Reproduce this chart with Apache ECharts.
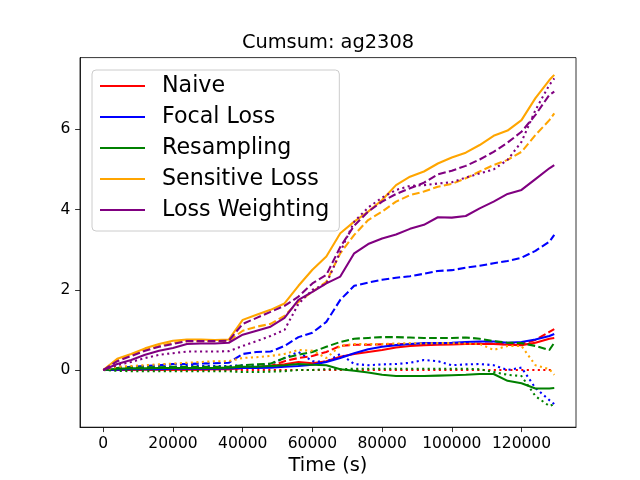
<!DOCTYPE html>
<html>
<head>
<meta charset="utf-8">
<script src="https://cdn.jsdelivr.net/npm/echarts@6/dist/echarts.min.js"></script>
<style>html,body{margin:0;padding:0;background:#fff}#c{width:640px;height:480px}</style>
</head>
<body>
<div id="c"></div>
<script>
const times = [0,4000,8000,12000,16000,20000,24000,28000,32000,36000,40000,44000,48000,52000,56000,60000,64000,68000,72000,76000,80000,84000,88000,92000,96000,100000,104000,108000,112000,116000,120000,124000,128000,129400];

const naiveSolid  = [0,0,0,0.01,0.01,0.01,0.01,0.01,0.02,0.02, 0.05,0.07,0.1,0.14,0.2,0.17,0.22,0.33,0.4,0.45, 0.5,0.56,0.6,0.62,0.63,0.64,0.65,0.65,0.65,0.63, 0.62,0.68,0.78,0.8];
const naiveDashed = [0,0,0,0.01,0.01,0.01,0.01,0.01,0.02,0.02, 0.05,0.08,0.1,0.22,0.3,0.35,0.45,0.6,0.63,0.63, 0.64,0.64,0.65,0.65,0.65,0.66,0.66,0.66,0.66,0.64, 0.65,0.75,0.95,1.02];
const naiveDotted = [0,0,0,0,0,0,0,0,0,0, 0,0,0,0,0,0,0,0,0,0, 0,0,0,0,0,0,0,0,0,0, 0,0,0,0];

const focalSolid  = [0,0.01,0.02,0.02,0.02,0.03,0.03,0.03,0.03,0.04, 0.05,0.05,0.06,0.08,0.1,0.13,0.2,0.3,0.42,0.52, 0.58,0.62,0.65,0.67,0.67,0.68,0.7,0.71,0.71,0.68, 0.7,0.76,0.85,0.9];
const focalDashed = [0,0.05,0.08,0.1,0.12,0.15,0.15,0.16,0.17,0.18, 0.4,0.45,0.46,0.6,0.82,0.93,1.2,1.75,2.1,2.18, 2.25,2.3,2.34,2.4,2.47,2.49,2.55,2.6,2.66,2.72, 2.8,2.97,3.2,3.37];
const focalDotted = [0,0.03,0.05,0.06,0.07,0.08,0.1,0.1,0.1,0.1, 0.12,0.12,0.15,0.3,0.45,0.22,0.2,0.4,0.15,0.12, 0.14,0.15,0.18,0.25,0.22,0.12,0.14,0.15,0.12,0.0, 0.06,-0.45,-0.75,-0.85];

const resSolid  = [0,0.03,0.04,0.04,0.05,0.05,0.05,0.05,0.05,0.06, 0.08,0.08,0.1,0.12,0.15,0.13,0.12,0.02,-0.02,-0.06, -0.12,-0.15,-0.15,-0.15,-0.14,-0.13,-0.12,-0.1,-0.1,-0.27, -0.33,-0.46,-0.46,-0.45];
const resDashed = [0,0.05,0.06,0.07,0.07,0.08,0.08,0.08,0.08,0.08, 0.12,0.14,0.16,0.3,0.38,0.45,0.58,0.7,0.78,0.8, 0.82,0.82,0.81,0.8,0.8,0.8,0.81,0.78,0.72,0.68, 0.67,0.6,0.5,0.68];
const resDotted = [0,-0.02,-0.03,-0.03,-0.03,-0.03,-0.03,-0.03,-0.03,-0.03, -0.05,-0.05,-0.04,-0.03,0,0,0.02,0.02,0.03,0.03, 0.03,0.03,0.03,0.03,0.03,0.03,0.03,0.02,-0.05,-0.12, -0.15,-0.65,-0.9,-0.85];

const sensSolid  = [0,0.28,0.4,0.54,0.65,0.73,0.76,0.76,0.75,0.76, 1.25,1.38,1.5,1.66,2.1,2.5,2.83,3.41,3.7,3.95, 4.24,4.61,4.82,4.95,5.15,5.3,5.42,5.61,5.84,5.97, 6.23,6.78,7.23,7.36];
const sensDashed = [0,0.25,0.38,0.5,0.6,0.68,0.72,0.72,0.72,0.72, 0.98,1.08,1.15,1.35,1.7,1.95,2.2,2.91,3.37,3.74, 3.95,4.2,4.36,4.45,4.57,4.64,4.78,4.95,5.11,5.24, 5.44,5.86,6.23,6.4];
const sensDotted = [0,0.08,0.1,0.12,0.14,0.16,0.18,0.2,0.22,0.22, 0.3,0.32,0.35,0.4,0.5,0.48,0.3,0.6,0.65,0.65, 0.65,0.66,0.67,0.66,0.67,0.67,0.66,0.65,0.5,0.6, 0.6,0.12,0.02,-0.12];

const lwSolid  = [0,0.15,0.25,0.38,0.48,0.55,0.65,0.66,0.66,0.68, 0.88,0.98,1.08,1.3,1.75,1.95,2.16,2.33,2.91,3.14, 3.28,3.38,3.52,3.62,3.81,3.8,3.84,4.03,4.2,4.39, 4.49,4.76,5.03,5.11];
const lwDashed = [0,0.22,0.35,0.48,0.58,0.65,0.72,0.72,0.72,0.73, 1.15,1.3,1.45,1.6,1.83,2.16,2.37,3.07,3.6,3.95, 4.2,4.39,4.53,4.67,4.88,4.97,5.09,5.25,5.44,5.67, 5.94,6.36,6.86,6.94];
const lwDotted = [0,0.12,0.2,0.3,0.38,0.42,0.46,0.46,0.46,0.47, 0.6,0.72,0.85,1.0,1.65,2.0,2.15,2.95,3.7,4.05, 4.3,4.49,4.59,4.61,4.65,4.68,4.8,4.9,5.0,5.24, 5.69,6.48,7.11,7.27];

const xTicks = [0,20000,40000,60000,80000,100000,120000];
const yTicks = [0,2,4,6];
const names = ['Naive','Focal Loss','Resampling','Sensitive Loss','Loss Weighting'];
const colors = ['#ff0000','#0000ff','#008000','#ffa500','#800080'];
const groups = [
  [naiveSolid, naiveDashed, naiveDotted],
  [focalSolid, focalDashed, focalDotted],
  [resSolid, resDashed, resDotted],
  [sensSolid, sensDashed, sensDotted],
  [lwSolid, lwDashed, lwDotted]
];
const dashTypes = ['solid', [7.7,3.3], [2.1,3.4]];

const FONT = 'DejaVu Sans';
const series = [];
groups.forEach((g, gi) => {
  g.forEach((vals, vi) => {
    series.push({
      type: 'line',
      name: names[gi],
      color: colors[gi],
      symbol: 'none',
      animation: false,
      lineStyle: {color: colors[gi], width: 2.08, type: dashTypes[vi], cap: 'butt'},
      data: times.map((t, i) => [t, vals[i]])
    });
  });
});

const chart = echarts.init(document.getElementById('c'), null, {renderer: 'canvas'});
chart.setOption({
  animation: false,
  backgroundColor: '#ffffff',
  title: {
    text: 'Cumsum: ag2308',
    left: 328, top: 33, padding: 0,
    textAlign: 'center',
    textStyle: {fontFamily: FONT, fontSize: 19.4, fontWeight: 'normal', color: '#000'}
  },
  legend: {
    data: names,
    orient: 'vertical',
    left: 92, top: 70,
    padding: [5, 10, 10, 8],
    itemWidth: 45, itemHeight: 2, itemGap: 9,
    icon: 'rect',
    itemStyle: {borderWidth: 0},
    backgroundColor: 'rgba(255,255,255,0.8)',
    borderColor: '#cccccc', borderWidth: 1, borderRadius: 4,
    textStyle: {fontFamily: FONT, fontSize: 22.2, lineHeight: 16, color: '#000', padding: [6,0,0,12]}
  },
  grid: {
    left: 80, right: 64, top: 57.6, bottom: 52.8,
    show: true, borderColor: '#000', borderWidth: 0.8, backgroundColor: 'transparent',
    outerBoundsMode: 'none'
  },
  xAxis: {
    type: 'value', min: -6686, max: 135640,
    name: 'Time (s)', nameLocation: 'middle', nameGap: 23,
    nameTextStyle: {fontFamily: FONT, fontSize: 19.4, color: '#000'},
    splitLine: {show: false},
    axisLine: {show: true, onZero: false, lineStyle: {color: '#000', width: 0.8}},
    axisTick: {show: true, customValues: xTicks, length: 4.9, lineStyle: {color: '#000', width: 0.8}},
    axisLabel: {customValues: xTicks, margin: 8.5, fontFamily: FONT, fontSize: 15.5, color: '#000', formatter: v => String(v)}
  },
  yAxis: {
    type: 'value', min: -1.426, max: 7.79,
    splitLine: {show: false},
    axisLine: {show: true, onZero: false, lineStyle: {color: '#000', width: 0.8}},
    axisTick: {show: true, customValues: yTicks, length: 4.9, lineStyle: {color: '#000', width: 0.8}},
    axisLabel: {customValues: yTicks, margin: 9.7, fontFamily: FONT, fontSize: 15.5, color: '#000', formatter: v => String(v)}
  },
  series: series
});
</script>
</body>
</html>
